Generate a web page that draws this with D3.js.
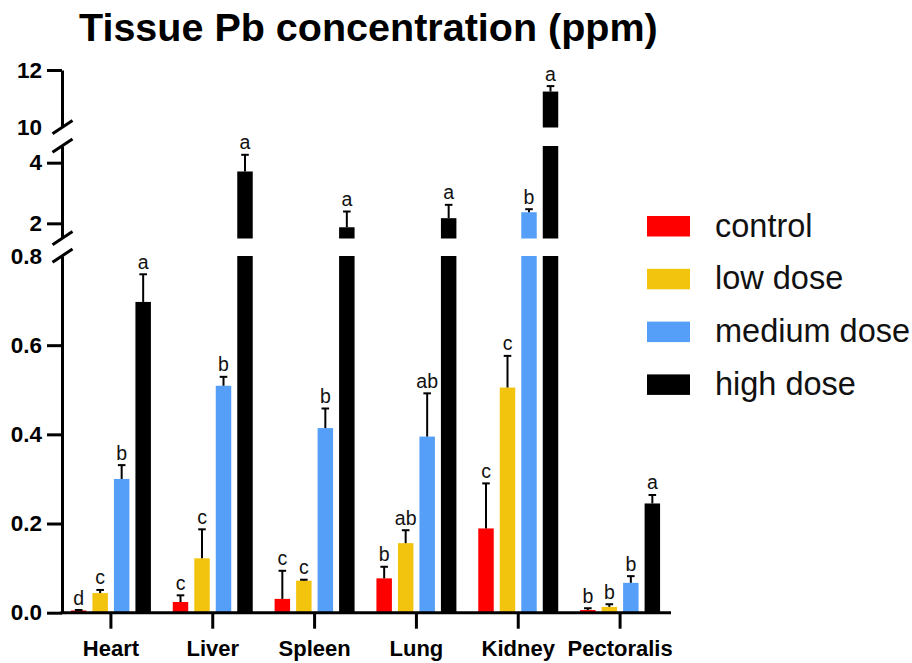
<!DOCTYPE html>
<html>
<head>
<meta charset="utf-8">
<script src="https://cdn.jsdelivr.net/npm/d3@7/dist/d3.min.js"></script>
<style>
  html, body { margin: 0; padding: 0; background: #fff; }
  svg { display: block; font-family: "Liberation Sans", Arial, Helvetica, sans-serif; }
</style>
</head>
<body>
<svg id="chart" width="912" height="663"></svg>
<script>
// Tissue lead concentration by organ and dose group (mean + SD, ppm)
const categories = ["Heart", "Liver", "Spleen", "Lung", "Kidney", "Pectoralis"];
const seriesNames = ["control", "low dose", "medium dose", "high dose"];
const seriesColors = ["#ff0000", "#f2c40e", "#559ff9", "#000000"];

const control       = [0.005, 0.024, 0.031, 0.077, 0.189, 0.006];
const controlErr    = [0.001, 0.015, 0.063, 0.026, 0.101, 0.004];
const lowDose       = [0.044, 0.122, 0.072, 0.156, 0.505, 0.013];
const lowDoseErr    = [0.007, 0.065, 0.002, 0.029, 0.071, 0.006];
const mediumDose    = [0.300, 0.509, 0.414, 0.395, 2.366, 0.067];
const mediumDoseErr = [0.031, 0.020, 0.044, 0.097, 0.100, 0.015];
const highDose      = [0.697, 3.71, 1.87, 2.17, 11.25, 0.245];
const highDoseErr   = [0.062, 0.55, 0.52, 0.44, 0.19, 0.019];

// significance letters per group
const controlLetters = ["d", "c", "c", "b", "c", "b"];
const lowLetters     = ["c", "c", "c", "ab", "c", "b"];
const mediumLetters  = ["b", "b", "b", "ab", "b", "b"];
const highLetters    = ["a", "a", "a", "a", "a", "a"];

// broken y axis: three stacked segments
const lowTicks = [0, 0.2, 0.4, 0.6, 0.8];
const midTicks = [2, 4];
const topTicks = [10, 12];

const values = [control, lowDose, mediumDose, highDose];
const errors = [controlErr, lowDoseErr, mediumDoseErr, highDoseErr];
const letters = [controlLetters, lowLetters, mediumLetters, highLetters];

const svg = d3.select("#chart");
const axisX = 62;
const baseY = 612.7;

const segments = [
  { scale: d3.scaleLinear().domain([0, 0.8]).range([baseY, 256]), ticks: lowTicks, fmt: d3.format(".1f"), hideTick: [0.8] },
  { scale: d3.scaleLinear().domain([1.5, 4.55]).range([238.5, 146]), ticks: midTicks, fmt: d3.format("d"), hideTick: [] },
  { scale: d3.scaleLinear().domain([10, 12]).range([127.5, 70]), ticks: topTicks, fmt: d3.format("d"), hideTick: [10] }
];

const x = d3.scaleBand().domain(categories).range([60, 671]);
const inner = d3.scaleBand().domain(seriesNames).range([-43, 43]).paddingInner(0.28).paddingOuter(0.14);

// title
svg.append("text")
  .attr("x", 79).attr("y", 41)
  .attr("font-size", 39.5).attr("font-weight", "bold")
  .text("Tissue Pb concentration (ppm)");

// bars, split across the axis segments
const barLayer = svg.append("g");
const errLayer = svg.append("g");
const labelLayer = svg.append("g");

seriesNames.forEach((s, si) => {
  categories.forEach((c, ci) => {
    const v = values[si][ci];
    const e = errors[si][ci];
    const cx = x(c) + x.bandwidth() / 2 + inner(s) + inner.bandwidth() / 2;
    const x0 = cx - inner.bandwidth() / 2;
    segments.forEach(seg => {
      const [d0, d1] = seg.scale.domain();
      if (v > d0) {
        const vTop = Math.min(v, d1);
        barLayer.append("rect")
          .attr("x", x0).attr("width", inner.bandwidth())
          .attr("y", seg.scale(vTop))
          .attr("height", seg.scale(d0) - seg.scale(vTop))
          .attr("fill", seriesColors[si]);
      }
    });
    // segment that holds the bar top
    const seg = segments.find(sg => v >= sg.scale.domain()[0] && v <= sg.scale.domain()[1]) || segments[0];
    const yTop = seg.scale(v);
    const yErr = seg.scale(v + e);
    errLayer.append("line")
      .attr("x1", cx).attr("x2", cx).attr("y1", yTop).attr("y2", yErr)
      .attr("stroke", "#000").attr("stroke-width", 2);
    errLayer.append("line")
      .attr("x1", cx - 3.8).attr("x2", cx + 3.8).attr("y1", yErr).attr("y2", yErr)
      .attr("stroke", "#000").attr("stroke-width", 2);
    labelLayer.append("text")
      .attr("x", cx).attr("y", yErr - 5.5)
      .attr("text-anchor", "middle")
      .attr("font-size", 19.5)
      .attr("fill", "#111")
      .text(letters[si][ci]);
  });
});

// y axis segments
segments.forEach(seg => {
  const g = svg.append("g")
    .attr("transform", `translate(${axisX},0)`)
    .call(d3.axisLeft(seg.scale).tickValues(seg.ticks).tickFormat(seg.fmt).tickSizeInner(15).tickSizeOuter(0).tickPadding(5));
  g.select(".domain").attr("stroke-width", 3).attr("stroke", "#000");
  g.selectAll(".tick line").attr("stroke-width", 3).attr("stroke", "#000")
    .attr("display", d => seg.hideTick.includes(d) ? "none" : null);
  g.selectAll(".tick text")
    .attr("font-size", 22.5).attr("font-weight", "bold").attr("fill", "#000")
    .attr("font-family", "'Liberation Sans', Arial, sans-serif");
});

// break marks on the y axis
const breaks = [segments[0].scale.range()[1], segments[1].scale.range()[0], segments[1].scale.range()[1], segments[2].scale.range()[0]];
breaks.forEach(by => {
  svg.append("line")
    .attr("x1", axisX - 9.5).attr("y1", by + 6.3)
    .attr("x2", axisX + 10.5).attr("y2", by - 7)
    .attr("stroke", "#000").attr("stroke-width", 3);
});

// x axis
const gx = svg.append("g")
  .attr("transform", `translate(0,${baseY})`)
  .call(d3.axisBottom(x).tickSizeInner(16).tickSizeOuter(0).tickPadding(10));
gx.select(".domain").attr("stroke-width", 3).attr("stroke", "#000")
  .attr("d", `M${axisX - 1.5},0H671`);
gx.selectAll(".tick line").attr("stroke-width", 3).attr("stroke", "#000");
gx.selectAll(".tick text")
  .attr("font-size", 22).attr("font-weight", "bold").attr("fill", "#000")
  .attr("font-family", "'Liberation Sans', Arial, sans-serif")
  .attr("dy", null).attr("y", 43);

// legend
const legend = svg.append("g").attr("transform", "translate(647,216)");
seriesNames.forEach((s, i) => {
  const gy = i * 52.8;
  legend.append("rect").attr("x", 0).attr("y", gy).attr("width", 43).attr("height", 20.5).attr("fill", seriesColors[i]);
  legend.append("text").attr("x", 68).attr("y", gy + 20.5)
    .attr("font-size", 32.5).attr("fill", "#111").text(s);
});
</script>
</body>
</html>
